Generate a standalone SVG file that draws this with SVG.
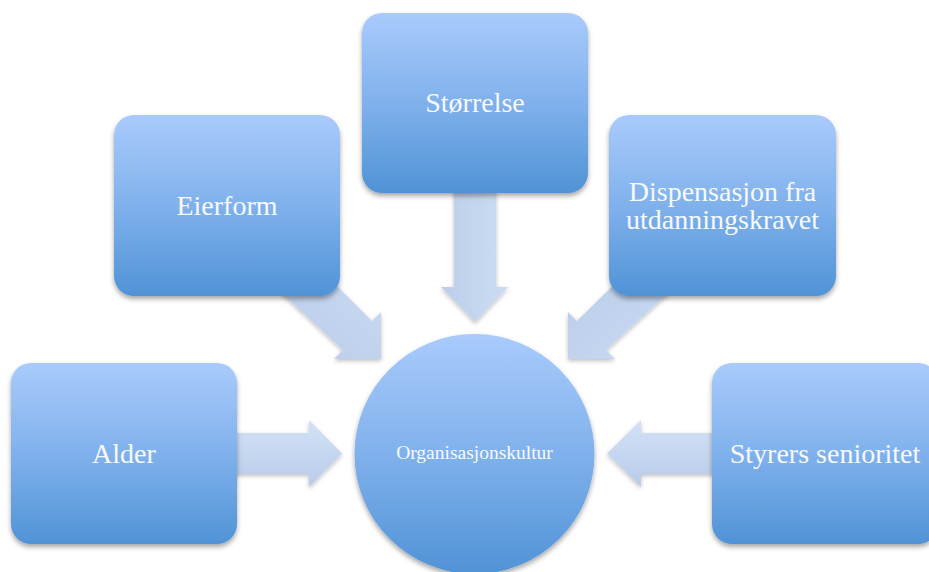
<svg xmlns="http://www.w3.org/2000/svg" width="929" height="572" viewBox="0 0 929 572">
<defs>
<linearGradient id="gBox" x1="0" y1="0" x2="0" y2="1">
<stop offset="0" stop-color="#a9cbfc"/>
<stop offset="0.5" stop-color="#80b1ec"/>
<stop offset="1" stop-color="#5093d6"/>
</linearGradient>
<linearGradient id="gArrow" x1="0" y1="0" x2="0" y2="1">
<stop offset="0" stop-color="#d3e2f7"/>
<stop offset="1" stop-color="#b8cbe8"/>
</linearGradient>
<linearGradient id="gArrowV" x1="1" y1="0" x2="0" y2="0">
<stop offset="0" stop-color="#ccdcf4"/>
<stop offset="1" stop-color="#bccee9"/>
</linearGradient>
<linearGradient id="gArrowD1" x1="1" y1="0" x2="0" y2="1">
<stop offset="0" stop-color="#cbdbf3"/>
<stop offset="1" stop-color="#b9cbe8"/>
</linearGradient>
<linearGradient id="gArrowD2" x1="1" y1="1" x2="0" y2="0">
<stop offset="0" stop-color="#cbdbf3"/>
<stop offset="1" stop-color="#b9cbe8"/>
</linearGradient>
<filter id="sh" x="-20%" y="-20%" width="140%" height="140%">
<feDropShadow dx="0" dy="3" stdDeviation="2.5" flood-color="#000" flood-opacity="0.35"/>
</filter>
<filter id="shA" x="-20%" y="-20%" width="140%" height="140%">
<feDropShadow dx="0" dy="2" stdDeviation="2" flood-color="#000" flood-opacity="0.25"/>
</filter>
</defs>
<style>
.box{fill:url(#gBox);filter:url(#sh)}
.arr{fill:url(#gArrow);filter:url(#shA)}
.t{font-family:"Liberation Serif","Times New Roman",serif;font-size:28px;fill:#f7faff;text-anchor:middle}
.tc{font-family:"Liberation Serif","Times New Roman",serif;font-size:19.5px;fill:#f7faff;text-anchor:middle}
</style>
<rect width="929" height="572" fill="#ffffff"/>
<g id="connectors">
<path class="arr" style="fill:url(#gArrowV)" d="M454,180 H496 V287 H508 L475,322 L441,287 H454 Z"/>
<path class="arr" d="M230,433 H309 V420 L342,453.5 L309,487 V474 H230 Z"/>
<path class="arr" d="M720,433 H641 V420 L607,453.5 L641,487 V474 H720 Z"/>
<path class="arr" style="fill:url(#gArrowD1)" d="M270,282 L343,350 L334,359 L381,359 L381,312 L372,321 L305,254 Z"/>
<path class="arr" style="fill:url(#gArrowD2)" d="M680,282 L606,350 L615,359 L568,359 L568,312 L577,321 L645,254 Z"/>
</g>
<g id="storrelse">
<rect class="box" x="362" y="13" width="226" height="180" rx="20"/>
<text class="t" x="475" y="112">Størrelse</text>
</g>
<g id="eierform">
<rect class="box" x="114" y="115" width="226" height="181" rx="20"/>
<text class="t" x="227" y="215">Eierform</text>
</g>
<g id="dispensasjon">
<rect class="box" x="609" y="115" width="227" height="181" rx="20"/>
<text class="t" x="722.5" y="201">Dispensasjon fra</text>
<text class="t" x="722.5" y="229">utdanningskravet</text>
</g>
<g id="alder">
<rect class="box" x="11" y="363" width="226" height="181" rx="20"/>
<text class="t" x="124" y="463">Alder</text>
</g>
<g id="styrers">
<rect class="box" x="712" y="363" width="226" height="181" rx="20"/>
<text class="t" x="825" y="463">Styrers senioritet</text>
</g>
<g id="organisasjonskultur">
<circle class="box" cx="474.5" cy="454" r="120"/>
<text class="tc" x="474.5" y="459">Organisasjonskultur</text>
</g>
</svg>
